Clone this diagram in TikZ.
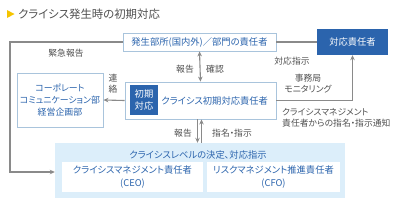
\documentclass[tikz,border=0pt]{standalone}
\usepackage{fontspec}
\setmainfont{Noto Sans CJK JP}[RawFeature={+palt}]
\usetikzlibrary{arrows.meta,calc}
\definecolor{mainblue}{HTML}{2B64AD}
\definecolor{paleblue}{HTML}{DCEEFA}
\definecolor{edgeblue}{HTML}{A9C4DC}
\definecolor{linegray}{HTML}{8A8A8A}
\definecolor{labelgray}{HTML}{505050}
\definecolor{markyellow}{HTML}{F5C400}
\begin{document}
\begin{tikzpicture}[x=1pt,y=-1pt,
    box/.style={draw=edgeblue,line width=0.9pt,fill=white,text=mainblue,
      font=\fontsize{9.3}{12.2}\selectfont,align=center,inner sep=0pt},
    solidbox/.style={fill=mainblue,text=white,
      font=\fontsize{9.3}{12.2}\selectfont,align=center,inner sep=0pt},
    lbl/.style={text=labelgray,font=\fontsize{8.8}{11}\selectfont,align=center,inner sep=0pt},
    conn/.style={draw=linegray,line width=1.1pt},
    arr/.style={conn,-{Stealth[length=5pt,width=4.5pt]}}]
    \useasboundingbox (0,0) rectangle (402,201);

    % Title
    \fill[markyellow] (7,10) -- (14.5,14) -- (7,18) -- cycle;
    \node[anchor=west,text=labelgray,font=\fontsize{11.4}{13}\selectfont,inner sep=0pt]
      (title) at (18,14) {クライシス発生時の初期対応};

    % Boxes
    \node[box,minimum width=153,minimum height=18] (site) at (199.5,42) {発生部所(国内外)／部門の責任者};
    \node[solidbox,minimum width=71,minimum height=26] (resp) at (352.5,42) {対応責任者};
    \node[box,minimum width=86,minimum height=54,font=\fontsize{8.9}{12.2}\selectfont] (corp) at (60,100)
      {コーポレート\\コミュニケーション部\\経営企画部};
    \node[box,minimum width=151,minimum height=37,text width=135,align=right] (init) at (200.5,100.5)
      {クライシス初期対応責任者};
    \node[solidbox,minimum width=28,minimum height=30] (tag) at (144,100) {初期\\対応};

    % Crisis level
    \node[fill=paleblue,minimum width=290,minimum height=55,inner sep=0pt] (level) at (200,170.5) {};
    \node[text=mainblue,font=\fontsize{9.3}{12.2}\selectfont,inner sep=0pt] (leveltitle) at (198,155)
      {クライシスレベルの決定、対応指示};
    \node[fill=white,text=mainblue,font=\fontsize{9.3}{12.2}\selectfont,align=center,inner sep=0pt,
      minimum width=141,minimum height=30] (ceo) at (132.5,177)
      {クライシスマネジメント責任者\\(CEO)};
    \node[fill=white,text=mainblue,font=\fontsize{9.3}{12.2}\selectfont,align=center,inner sep=0pt,
      minimum width=133,minimum height=30] (cfo) at (273.5,177)
      {リスクマネジメント推進責任者\\(CFO)};

    % Connectors
    \coordinate (bend) at (10,172);
    \draw[arr] (site.west) -| (bend) -- (bend -| level.west);
    \draw[conn] (site.east) -- (resp.west);
    \draw[conn,{Stealth[length=5pt,width=4.5pt]}-{Stealth[length=5pt,width=4.5pt]}] (site.south) -- (init.north);
    \draw[arr] (init.west) -- (corp.east);
    \draw[arr] ([xshift=-3]init.south) -- ([xshift=-3]init.south |- level.north);
    \draw[arr] ([xshift=1]init.south |- level.north) -- ([xshift=1]init.south);
    \draw[arr] (init.east) -| (resp.south);

    % Labels
    \node[lbl] (l1) at (66,53) {緊急報告};
    \node[lbl] (l2) at (292,61) {対応指示};
    \node[lbl] (l3) at (185,69) {報告};
    \node[lbl] (l4) at (215,69) {確認};
    \node[lbl] (l5) at (113,84) {連\\絡};
    \node[lbl] (l6) at (308,84) {事務局\\モニタリング};
    \node[lbl,anchor=west,align=left] (l7) at (282,117.5)
      {クライシスマネジメント\\責任者からの指名・指示通知};
    \node[lbl] (l8) at (183,133) {報告};
    \node[lbl] (l9) at (232,133) {指名・指示};
\end{tikzpicture}
\end{document}
